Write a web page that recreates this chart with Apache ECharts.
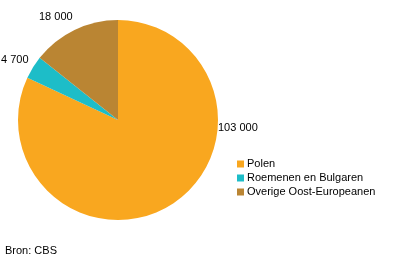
<!DOCTYPE html>
<html><head><meta charset="utf-8">
<script src="https://cdn.jsdelivr.net/npm/echarts@6/dist/echarts.min.js"></script>
<style>html,body{margin:0;padding:0;background:#fff}#c{width:396px;height:264px}</style>
</head><body><div id="c"></div>
<script>
const categories = ['Polen', 'Roemenen en Bulgaren', 'Overige Oost-Europeanen'];
const values = [103000, 4700, 18000];
const colors = ['#F9A71F', '#1DBDC8', '#BA8533'];
const labelPos = [[218, 122], [1, 54], [39, 11]];
const source = 'Bron: CBS';

function fmt(v){ return String(v).replace(/\B(?=(\d{3})+(?!\d))/g, ' '); }

const chart = echarts.init(document.getElementById('c'), null, {renderer:'canvas'});
chart.setOption({
  animation: false,
  textStyle: {fontFamily: 'Liberation Sans, Arial, sans-serif'},
  legend: {
    orient: 'vertical', left: 232, top: 152,
    icon: 'rect', itemWidth: 7, itemHeight: 7, itemGap: 0,
    textStyle: {fontSize: 11, color: '#000', lineHeight: 14, padding: [0,0,0,-2]},
    data: categories
  },
  graphic: [{type:'text', left: 5, top: 245, style:{text: source, fontSize: 11, fill:'#000', fontFamily:'Liberation Sans, Arial, sans-serif'}}],
  series: [{
    type: 'pie', center: [118, 120], radius: 100, startAngle: 90, clockwise: true,
    silent: true, avoidLabelOverlap: false,
    label: {show: true, position: 'outside', alignTo: 'none', overflow: 'none', width: 100, formatter: p => fmt(p.value), fontSize: 11, color: '#000'},
    labelLine: {show: false},
    labelLayout: p => ({x: labelPos[p.dataIndex][0], y: labelPos[p.dataIndex][1], align: 'left', verticalAlign: 'top', hideOverlap: false}),
    data: categories.map((c, i) => ({name: c, value: values[i], itemStyle: {color: colors[i]}}))
  }]
});
</script></body></html>
